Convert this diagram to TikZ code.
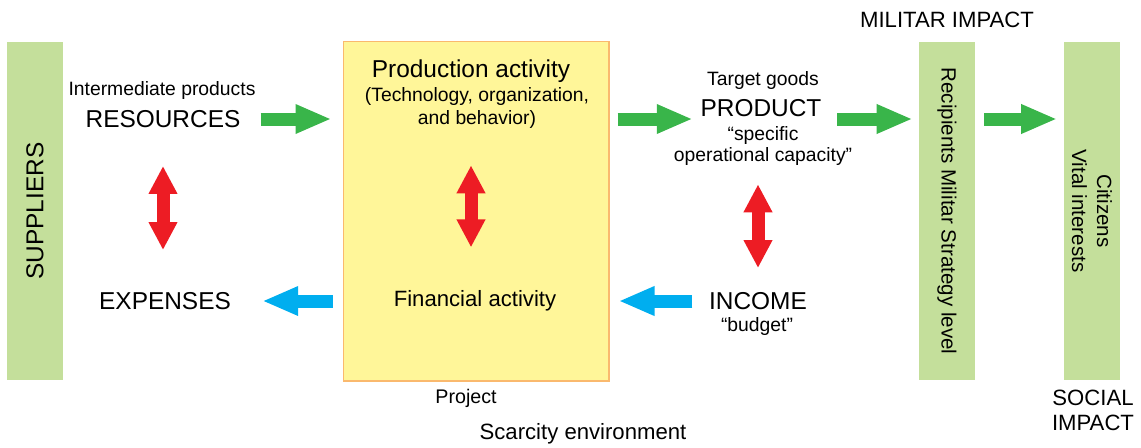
\documentclass[tikz,border=0pt]{standalone}
\usepackage{fontspec}
\setmainfont{Liberation Sans}
\usetikzlibrary{arrows.meta, positioning}
\definecolor{barGreen}{RGB}{196,223,155}
\definecolor{boxYellow}{RGB}{255,246,153}
\definecolor{boxOrange}{RGB}{250,185,110}
\definecolor{arrGreen}{RGB}{57,181,74}
\definecolor{arrRed}{RGB}{237,28,36}
\definecolor{arrBlue}{RGB}{0,174,239}

\begin{document}
\begin{tikzpicture}[x=0.02cm, y=-0.02cm,
  every node/.style={inner sep=0pt},
  big/.style={font=\fontsize{13.9}{16}\selectfont},
  small/.style={font=\fontsize{11}{13.1}\selectfont, align=center},
  mid/.style={font=\fontsize{12.6}{14.2}\selectfont, align=center},
  bar/.style={fill=barGreen, minimum width=6.76cm, minimum height=1.12cm},
  garrow/.style={arrGreen, line width=0.26cm, -{Triangle[length=0.72cm, width=0.54cm]}},
  barrow/.style={arrBlue, line width=0.26cm, -{Triangle[length=0.72cm, width=0.54cm]}},
  rarrow/.style={arrRed, line width=0.26cm, {Triangle[length=0.56cm, width=0.54cm]}-{Triangle[length=0.56cm, width=0.54cm]}}
]
\useasboundingbox (0,0) rectangle (1141,447);

% Side bars
\node[bar, rotate=90, big] (supp) at (35,211) {SUPPLIERS};
\node[bar, rotate=-90, font=\fontsize{11.7}{14}\selectfont] (recip) at (947,211) {Recipients Militar Strategy level};
\node[bar, rotate=-90, align=center, font=\fontsize{11.7}{14.2}\selectfont] (citiz) at (1092,211) {Citizens\\Vital interests};

% Project box
\node[draw=boxOrange, line width=0.6pt, fill=boxYellow, minimum width=5.32cm, minimum height=6.8cm] (proj) at (476,211) {};
\node[big] (prodtitle) at (471,71) {Production activity};
\node[small] (prodsub) at (477,108) {(Technology, organization,\\and behavior)};
\node[mid] (fin) at (475,301) {Financial activity};
\node[font=\fontsize{11.2}{13}\selectfont] (project) at (466,398) {Project};
\node[mid] (scarcity) at (583,434) {Scarcity environment};

% Left side
\node[small] (interm) at (162,90) {Intermediate products};
\node[big] (res) at (163,119) {RESOURCES};
\node[big] (exp) at (165,301) {EXPENSES};

% Right side
\node[small] (target) at (763,80) {Target goods};
\node[big] (product) at (761,108) {PRODUCT};
\node[small, font=\fontsize{11}{12.5}\selectfont] (capacity) at (763,146) {“specific\\operational capacity”};
\node[big] (income) at (758,301) {INCOME};
\node[small] (budget) at (757,326) {“budget”};
\node[mid] (milimp) at (947,20) {MILITAR IMPACT};
\node[mid] (socimp) at (1093,410) {SOCIAL\\IMPACT};

% Green arrows
\draw[garrow, shorten <=0.4cm, shorten >=0.22cm] (res.east) -- (res.east -| proj.west);
\draw[garrow, shorten <=0.16cm, shorten >=0.15cm] (proj.east |- res.east) -- (product.west |- res.east);
\draw[garrow, shorten <=0.31cm, shorten >=0.12cm] (product.east |- res.east) -- (recip.south |- res.east);
\draw[garrow, shorten <=0.18cm, shorten >=0.13cm] (recip.north |- res.east) -- (citiz.south |- res.east);

% Blue arrows
\draw[barrow, shorten <=0.2cm, shorten >=0.62cm] (proj.west |- exp.east) -- (exp.east);
\draw[barrow, shorten <=0.33cm, shorten >=0.18cm] (income.west) -- (proj.east |- income.west);

% Red arrows
\draw[rarrow, shorten <=0.76cm, shorten >=0.84cm] (res.south) -- (res.south |- exp.north);
\draw[rarrow, shorten <=0.73cm, shorten >=0.86cm] (prodtitle.south |- prodsub.south) -- (prodtitle.south |- fin.north);
\draw[rarrow, shorten <=0.36cm, shorten >=0.48cm] (income.north |- capacity.south) -- (income.north);
\end{tikzpicture}
\end{document}
